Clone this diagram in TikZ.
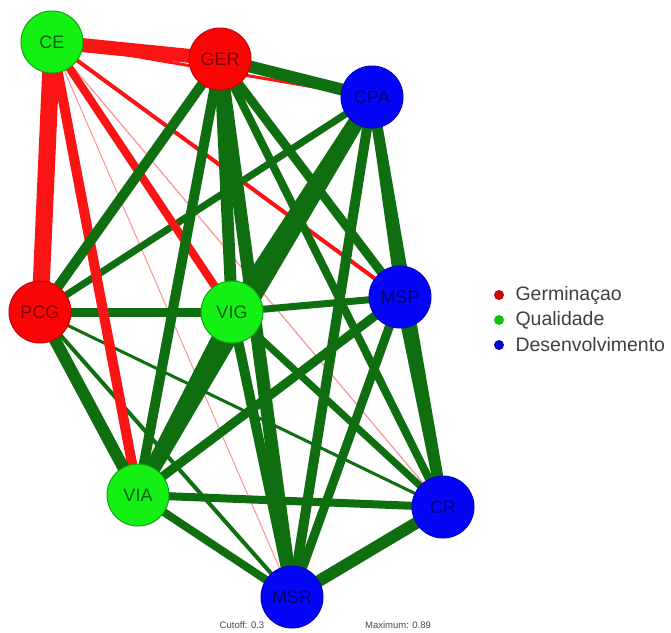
\documentclass[tikz,border=0pt]{standalone}
\usepackage{fontspec}
\setmainfont{Liberation Sans}
\begin{document}
\begin{tikzpicture}[x=1pt,y=-1pt,
  vnode/.style={circle,minimum size=62pt,inner sep=0pt,line width=1pt,font=\fontsize{18}{18}\selectfont},
  gnode/.style={vnode,fill=qgreen,draw=qgreen!70!black,text=qgreen!40!black},
  rnode/.style={vnode,fill=qred,draw=qred!80!black,text=qred!50!black},
  bnode/.style={vnode,fill=qblue,draw=qblue!80!black,text=qblue!45!black},
  pos/.style={draw=edgegreen,line width=#1},
  neg/.style={draw=edgered,line width=#1},
  faint/.style={draw=edgered!45!white,line width=#1},
  legtext/.style={anchor=west,text=black!75,font=\fontsize{19.5}{19.5}\selectfont},
  foot/.style={text=black!70,font=\fontsize{9.5}{9.5}\selectfont}]
\definecolor{qgreen}{RGB}{20,240,20}
\definecolor{qred}{RGB}{250,5,5}
\definecolor{qblue}{RGB}{5,5,245}
\definecolor{edgegreen}{RGB}{15,110,15}
\definecolor{edgered}{RGB}{250,20,20}
\useasboundingbox (0,0) rectangle (671,632);
\fill[white] (0,0) rectangle (671,632);

% node positions
\coordinate (pCE) at (52,42);
\coordinate (pGER) at (220,59);
\coordinate (pCPA) at (372,97);
\coordinate (pMSP) at (400,297);
\coordinate (pPCG) at (40,312);
\coordinate (pVIG) at (232,312);
\coordinate (pVIA) at (138,495);
\coordinate (pCR) at (443,507);
\coordinate (pMSR) at (292,597);

% edges (weak first)
\draw[faint=1] (pCE) -- (pMSR);
\draw[faint=1.2] (pCE) -- (pCR);
\draw[neg=3] (pCE) -- (pCPA);
\draw[pos=3] (pPCG) -- (pCR);
\draw[neg=4] (pCE) -- (pMSP);
\draw[pos=4] (pPCG) -- (pMSR);
\draw[pos=7] (pCPA) -- (pPCG);
\draw[pos=7] (pVIG) -- (pMSP);
\draw[pos=7] (pVIG) -- (pCR);
\draw[neg=8] (pCE) -- (pVIG);
\draw[pos=8] (pGER) -- (pCR);
\draw[pos=8] (pVIA) -- (pCR);
\draw[pos=8] (pVIA) -- (pMSR);
\draw[pos=8] (pCPA) -- (pMSP);
\draw[pos=9] (pGER) -- (pMSP);
\draw[pos=9] (pMSP) -- (pMSR);
\draw[pos=9] (pMSP) -- (pVIA);
\draw[pos=9] (pPCG) -- (pVIG);
\draw[neg=10] (pCE) -- (pVIA);
\draw[pos=10] (pCPA) -- (pMSR);
\draw[pos=10] (pGER) -- (pPCG);
\draw[pos=10] (pGER) -- (pVIA);
\draw[pos=10] (pMSP) -- (pCR);
\draw[pos=10] (pVIG) -- (pMSR);
\draw[pos=11] (pCPA) -- (pCR);
\draw[pos=12] (pGER) -- (pVIG);
\draw[pos=12] (pGER) -- (pCPA);
\draw[pos=12] (pCR) -- (pMSR);
\draw[pos=12] (pPCG) -- (pVIA);
\draw[pos=13] (pGER) -- (pMSR);
\draw[neg=14] (pCE) -- (pGER);
\draw[pos=14] (pCPA) -- (pVIA);
\draw[pos=14] (pVIG) -- (pVIA);
\draw[pos=15] (pCPA) -- (pVIG);
\draw[neg=17] (pCE) -- (pPCG);

% nodes
\node[gnode] (CE) at (pCE) {CE};
\node[rnode] (GER) at (pGER) {GER};
\node[bnode] (CPA) at (pCPA) {CPA};
\node[bnode] (MSP) at (pMSP) {MSP};
\node[rnode] (PCG) at (pPCG) {PCG};
\node[gnode] (VIG) at (pVIG) {VIG};
\node[gnode] (VIA) at (pVIA) {VIA};
\node[bnode] (CR) at (pCR) {CR};
\node[bnode] (MSR) at (pMSR) {MSR};

% legend
\fill[qred!80!black] (499,295) circle (5);
\fill[qgreen!80!black] (499,320) circle (5);
\fill[qblue!80!black] (499,345) circle (5);
\node[legtext] (l1) at (512,295) {Germinaçao};
\node[legtext] (l2) at (512,320) {Qualidade};
\node[legtext] (l3) at (512,345) {Desenvolvimento};

% footer
\node[foot] (cut) at (242,625) {Cutoff: 0.3};
\node[foot] (max) at (398,625) {Maximum: 0.89};
\end{tikzpicture}
\end{document}
